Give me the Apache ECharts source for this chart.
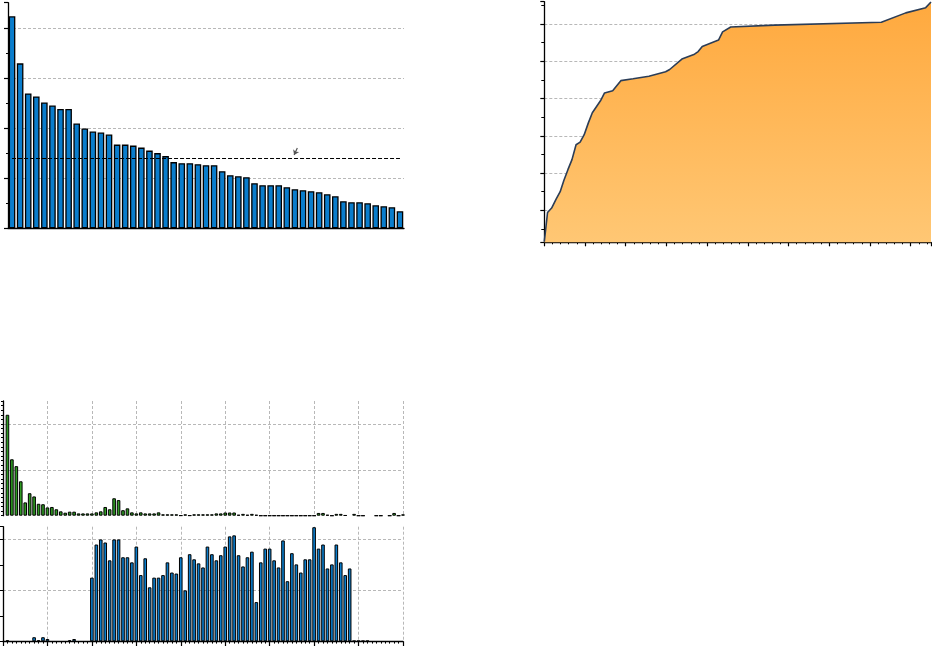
<!DOCTYPE html>
<html>
<head>
<meta charset="utf-8">
<script src="https://cdn.jsdelivr.net/npm/echarts@6/dist/echarts.min.js"></script>
<style>html,body{margin:0;padding:0;background:#fff}#c{width:932px;height:646px}</style>
</head>
<body>
<div id="c"></div>
<script>
// ---- Top-left: ranked bars ----
const rankValues = [4.23,3.29,2.69,2.63,2.51,2.45,2.38,2.38,2.09,1.99,1.93,1.91,1.87,1.67,1.67,1.65,1.61,1.55,1.50,1.44,1.32,1.30,1.30,1.28,1.26,1.26,1.14,1.06,1.04,1.02,0.90,0.86,0.86,0.86,0.82,0.78,0.76,0.74,0.72,0.68,0.64,0.54,0.52,0.52,0.50,0.46,0.44,0.42,0.34];
const rankCategories = rankValues.map((_, i) => String(i + 1));
const referenceLevel = 1.395;
const refLineFrom = [0, 1.395];
const refLineTo = [48, 1.395];
const arrowFrom = [35.3, 1.6];
const arrowTo = [34.9, 1.46];

// ---- Top-right: cumulative area ----
const cumX = [0,0.8,1.8,2.9,3.9,4.8,5.8,6.8,7.8,8.8,9.8,10.8,11.8,12.8,13.8,14.8,16.8,18.8,21.8,25.7,29.8,30.8,33.8,36.9,37.8,38.8,42.8,43.8,45.8,56.6,82.8,88.8,93.7,95];
const cumY = [1.6,9.4,10.6,13.0,15.0,18.0,20.9,23.6,27.6,28.3,30.3,33.4,36.2,37.8,39.4,41.5,42.1,44.8,45.3,46.0,47.2,47.8,50.6,51.9,52.6,54.0,55.7,57.9,59.2,59.7,60.5,63.0,64.4,65.9];

// ---- Bottom: histograms (bin centers 0..90) ----
const greenCounts = [null,2.20,1.23,1.08,0.75,0.29,0.49,0.42,0.26,0.25,0.18,
  0.19,0.14,0.095,0.066,0.088,0.088,0.05,0.05,0.05,0.05,
  0.073,0.095,0.19,0.14,0.38,0.34,0.12,0.16,0.073,0.05,
  0.073,0.05,0.05,0.05,0.073,0.03,0.03,0.03,0.03,0.005,
  0.03,0.005,0.03,0.03,0.03,0.03,0.03,0.05,0.05,0.07,
  0.07,0.07,0.02,0.04,0.02,0.04,0.02,0,0,0,
  0,0,0,0,0,0,0,0,0,0,
  0.06,0.06,0.02,0,0.04,0.04,0.01,null,0.04,0,
  0,null,null,0,0,null,0,0.06,0,0.03];
const blueCounts = [null,0.02,null,null,null,null,null,0.08,0.02,0.08,0.045,
  null,null,null,null,0.02,0.045,null,null,null,1.25,
  1.90,2.00,1.94,1.59,2.00,2.00,1.65,1.65,1.55,1.86,
  1.30,1.63,1.06,1.25,1.25,1.30,1.55,1.35,1.33,1.65,
  1.00,1.71,1.61,1.53,1.45,1.86,1.71,1.59,1.69,1.86,
  2.06,2.08,1.69,1.47,1.65,1.76,0.77,1.55,1.82,1.82,
  1.59,1.45,1.98,1.18,1.73,1.51,1.35,1.61,1.61,2.24,
  1.82,1.90,1.43,1.51,1.90,1.55,1.30,1.43,0.01,0.01,
  0.01,0.01,null,null,null,null,null,null,null,null];
const binCenters = greenCounts.map((_, i) => i);

const grid = (l, t, w, h) => ({left: l, top: t, width: w, height: h, containLabel: false, outerBoundsMode: 'none'});
const black = '#000';
const gridLine = {show: true, lineStyle: {color: '#b8b8b8', type: [3, 2], width: 1}};
const axLine = {show: true, onZero: false, lineStyle: {color: black, width: 1.3}};
const noLabel = {show: false};

const chart = echarts.init(document.getElementById('c'), null, {renderer: 'canvas'});
chart.setOption({
  animation: false,
  backgroundColor: '#fff',
  grid: [
    grid(8, 2.7, 396, 225.6),
    grid(544.3, 1.7, 386.7, 240.6),
    grid(3, 401, 400, 114.7),
    grid(3, 526.7, 400, 114.6)
  ],
  xAxis: [
    {gridIndex: 0, type: 'category', data: rankCategories, boundaryGap: true, axisLine: axLine,
     axisTick: {show: false}, axisLabel: noLabel, splitLine: {show: false}},
    {gridIndex: 0, type: 'value', min: -0.5, max: 48.5, show: false},
    {gridIndex: 1, type: 'value', min: 0, max: 95, interval: 10, axisLine: axLine,
     axisTick: {show: true, length: 4, lineStyle: {color: black, width: 1.2}},
     minorTick: {show: true, splitNumber: 5, length: 2, lineStyle: {color: black, width: 1}},
     axisLabel: noLabel, splitLine: {show: false}},
    {gridIndex: 2, type: 'value', min: 0, max: 90, interval: 10, axisLine: {show: false},
     axisTick: {show: false}, axisLabel: noLabel,
     splitLine: Object.assign({}, gridLine, {showMinLine: false, showMaxLine: true})},
    {gridIndex: 3, type: 'value', min: 0, max: 90, interval: 10, axisLine: axLine,
     axisTick: {show: true, length: 5, lineStyle: {color: black, width: 1.2}},
     minorTick: {show: true, splitNumber: 10, length: 2.3, lineStyle: {color: black, width: 1}},
     axisLabel: noLabel, splitLine: Object.assign({}, gridLine, {showMinLine: false, showMaxLine: true})}
  ],
  yAxis: [
    {gridIndex: 0, type: 'value', min: 0, max: 4.5, interval: 1, axisLine: axLine,
     axisTick: {show: true, length: 4, lineStyle: {color: black, width: 1.2}},
     minorTick: {show: true, splitNumber: 2, length: 2, lineStyle: {color: black, width: 1}},
     axisLabel: noLabel, splitLine: Object.assign({}, gridLine, {showMinLine: false, showMaxLine: false})},
    {gridIndex: 1, type: 'value', min: 1.4, max: 66, splitNumber: 5, axisLine: axLine,
     axisTick: {show: true, length: 4, lineStyle: {color: black, width: 1.2}},
     minorTick: {show: true, splitNumber: 2, length: 3, lineStyle: {color: black, width: 1}},
     axisLabel: noLabel, splitLine: Object.assign({}, gridLine, {showMinLine: false, showMaxLine: false})},
    {gridIndex: 2, type: 'value', min: 0, max: 2.5, interval: 1, axisLine: axLine,
     axisTick: {show: true, length: 2, lineStyle: {color: black, width: 1}},
     minorTick: {show: true, splitNumber: 10, length: 2, lineStyle: {color: black, width: 1}},
     axisLabel: noLabel, splitLine: Object.assign({}, gridLine, {showMinLine: false, showMaxLine: false})},
    {gridIndex: 3, type: 'value', min: 0, max: 2.25, interval: 1, axisLine: axLine,
     axisTick: {show: true, length: 3, lineStyle: {color: black, width: 1}},
     minorTick: {show: true, splitNumber: 2, length: 3, lineStyle: {color: black, width: 1}},
     axisLabel: noLabel, splitLine: Object.assign({}, gridLine, {showMinLine: false, showMaxLine: false})}
  ],
  series: [
    {type: 'bar', xAxisIndex: 0, yAxisIndex: 0, data: rankValues, barWidth: 6.6,
     itemStyle: {color: '#0a7dcc', borderColor: black, borderWidth: 1.3}},
    {type: 'line', xAxisIndex: 1, yAxisIndex: 0, data: [], silent: true,
     markLine: {silent: true, symbol: ['none', 'none'], label: {show: false},
       lineStyle: {color: black, type: [4, 2], width: 1.2},
       data: [[{coord: refLineFrom}, {coord: refLineTo}]]}},
    {type: 'line', xAxisIndex: 1, yAxisIndex: 0, data: [], silent: true,
     markLine: {silent: true, symbol: ['none', 'arrow'], symbolSize: 5, label: {show: false},
       lineStyle: {color: '#555', type: 'solid', width: 1.2},
       data: [[{coord: arrowFrom}, {coord: arrowTo}]]}},
    {type: 'line', xAxisIndex: 2, yAxisIndex: 1, data: cumX.map((x, i) => [x, cumY[i]]),
     symbol: 'none', lineStyle: {color: '#2b3d57', width: 1.6},
     areaStyle: {opacity: 1, color: new echarts.graphic.LinearGradient(0, 0, 0, 1, [
       {offset: 0, color: '#ffa93e'}, {offset: 1, color: '#ffc774'}])}},
    {type: 'bar', xAxisIndex: 3, yAxisIndex: 2, data: binCenters.map((x, i) => [x, greenCounts[i]]),
     barWidth: 3.6, barMinWidth: 3.6, barMaxWidth: 3.6, itemStyle: {color: '#2e9c22', borderColor: black, borderWidth: 1}},
    {type: 'bar', xAxisIndex: 4, yAxisIndex: 3, data: binCenters.map((x, i) => [x, blueCounts[i]]),
     barWidth: 3.6, barMinWidth: 3.6, barMaxWidth: 3.6, itemStyle: {color: '#0a7dcc', borderColor: black, borderWidth: 1}}
  ]
});
</script>
</body>
</html>
